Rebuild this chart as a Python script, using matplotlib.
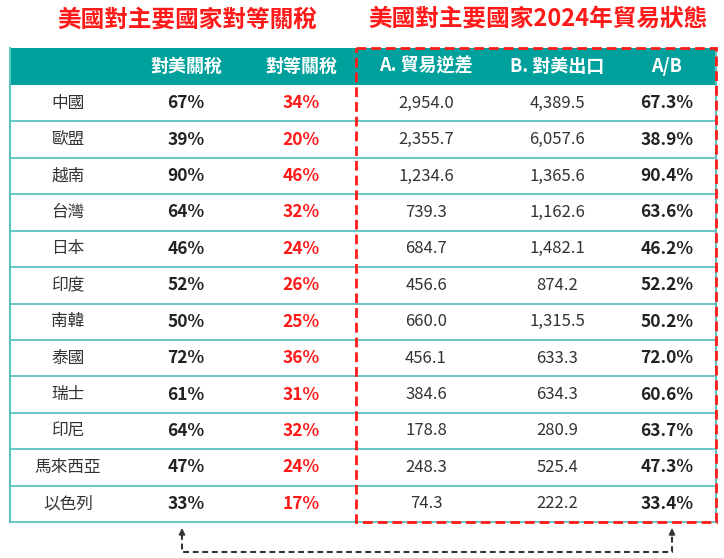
"""Recreate the US tariff / 2024 trade table as a matplotlib figure."""

import matplotlib

matplotlib.use("Agg")

import matplotlib.pyplot as plt  # noqa: E402
from matplotlib.patches import Rectangle  # noqa: E402

plt.rcParams["font.family"] = ["Noto Sans CJK TC", "DejaVu Sans"]

# data
countries = ["中國", "歐盟", "越南", "台灣", "日本", "印度", "南韓", "泰國", "瑞士", "印尼", "馬來西亞", "以色列"]
us_tariff = [67, 39, 90, 64, 46, 52, 50, 72, 61, 64, 47, 33]
reciprocal = [34, 20, 46, 32, 24, 26, 25, 36, 31, 32, 24, 17]
deficit = [2954.0, 2355.7, 1234.6, 739.3, 684.7, 456.6, 660.0, 456.1, 384.6, 178.8, 248.3, 74.3]
exports = [4389.5, 6057.6, 1365.6, 1162.6, 1482.1, 874.2, 1315.5, 633.3, 634.3, 280.9, 525.4, 222.2]
ratio = [67.3, 38.9, 90.4, 63.6, 46.2, 52.2, 50.2, 72.0, 60.6, 63.7, 47.3, 33.4]

headers = ["", "對美關稅", "對等關稅", "A. 貿易逆差", "B. 對美出口", "A/B"]
title_left = "美國對主要國家對等關稅"
title_right = "美國對主要國家2024年貿易狀態"

TEAL = "#00a19c"
LINE = "#5cc3c0"
RED = "#ff1a1a"
DARK = "#222222"

# layout in pixel units
col_x = [68, 186, 301, 426, 557, 667]
left, right = 10, 716
head_top, head_bot = 48, 85
row_h = (522 - head_bot) / len(countries)
box_left = 356

fig = plt.figure(figsize=(7.24, 5.58), dpi=100)
ax = fig.add_axes([0, 0, 1, 1])
ax.set_xlim(0, 724)
ax.set_ylim(558, 0)
ax.axis("off")

ax.text(187, 20, title_left, color=RED, fontsize=17, fontweight="bold", ha="center", va="center")
ax.text(538, 20, title_right, color=RED, fontsize=17, fontweight="bold", ha="center", va="center")

# header band
ax.add_patch(Rectangle((left, head_top), right - left, head_bot - head_top, color=TEAL, lw=0))
for x, h in zip(col_x, headers):
    ax.text(x, (head_top + head_bot) / 2, h, color="white", fontsize=13, fontweight="bold",
            ha="center", va="center")

# rows
n = len(countries)
for i in range(n):
    yc = head_bot + (i + 0.5) * row_h
    yb = head_bot + (i + 1) * row_h
    ax.plot([left, right], [yb, yb], color=LINE, lw=1.3, solid_capstyle="butt")
    cells = [
        (countries[i], "#333333", "normal", 12),
        (f"{us_tariff[i]}%", DARK, "bold", 12.5),
        (f"{reciprocal[i]}%", RED, "bold", 12.5),
        (f"{deficit[i]:,.1f}", "#333333", "normal", 12),
        (f"{exports[i]:,.1f}", "#333333", "normal", 12),
        (f"{ratio[i]:.1f}%", DARK, "bold", 12.5),
    ]
    for x, (txt, c, w, fs) in zip(col_x, cells):
        ax.text(x, yc, txt, color=c, fontweight=w, fontsize=fs, ha="center", va="center")

table_bot = head_bot + n * row_h
ax.plot([left, left], [head_top, table_bot], color=LINE, lw=1.5)
ax.plot([right, right], [head_top, table_bot], color=LINE, lw=1.5)

# red dashed box around trade columns
ax.add_patch(Rectangle((box_left, head_top), right - box_left, table_bot - head_top, fill=False,
                       edgecolor=RED, lw=2.0, linestyle=(0, (3.5, 1.8)), zorder=5))

# dashed connector arrow below the table
ax_l, ax_r, y_top, y_low = 182, 672, 528, 552
ax.plot([ax_l, ax_l, ax_r, ax_r], [y_top + 6, y_low, y_low, y_top + 6], color="#333333",
        lw=1.5, linestyle=(0, (2.8, 1.8)))
for x in (ax_l, ax_r):
    ax.annotate("", xy=(x, y_top), xytext=(x, y_top + 7),
                arrowprops=dict(arrowstyle="-|>", color="#333333", lw=1.2,
                                mutation_scale=9, shrinkA=0, shrinkB=0))

fig.savefig("out.png", dpi=100)
plt.close(fig)
